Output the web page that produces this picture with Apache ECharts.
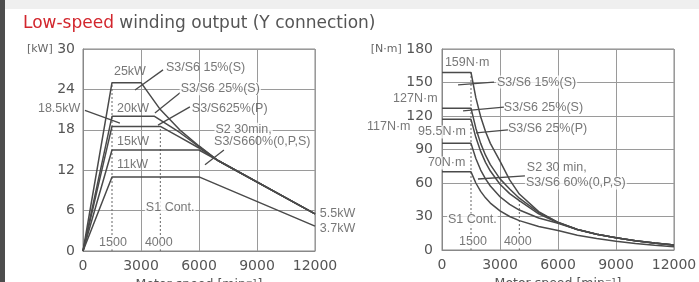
<!DOCTYPE html>
<html>
<head>
<meta charset="utf-8">
<script src="https://cdn.jsdelivr.net/npm/echarts@6/dist/echarts.min.js"></script>
<style>
  html, body { margin: 0; padding: 0; background: #fff; }
  #chart { width: 699px; height: 282px; }
</style>
</head>
<body>
<div id="chart"></div>
<script>
// --- data ---
// output [kW] against motor speed (points along each rated line)
const powS15Speed = [0, 1500, 3000, 4000, 5000, 6000, 7000, 12000];
const powS15 = [0, 25, 25, 21, 18, 15.6, 13.4, 5.5];
const powS25SSpeed = [0, 1500, 3700, 5000, 6000, 7000, 12000];
const powS25S = [0, 20, 20, 17.6, 15.5, 13.4, 5.5];
const powS25PSpeed = [0, 1500, 4000, 5000, 6000, 7000, 12000];
const powS25P = [0, 18.5, 18.5, 16.9, 15.3, 13.4, 5.5];
const powS2Speed = [0, 1500, 6000, 12000];
const powS2 = [0, 15, 15, 5.5];
const powS1Speed = [0, 1500, 6000, 12000];
const powS1 = [0, 11, 11, 3.7];

// torque [N·m] against motor speed
const torqueSpeed = [0, 1500, 1750, 2000, 2250, 2500, 3000, 3500, 4000, 5000, 6000, 7000, 8000, 9000, 10000, 11000, 12000];
const torS15 = [159, 159, 136.4, 119.4, 106.1, 95.5, 79.6, 62.8, 50.1, 34.4, 24.8, 18.3, 14.1, 10.9, 8.3, 6.2, 4.4];
const torS25S = [127, 127, 109.1, 95.5, 84.9, 76.4, 63.7, 54.6, 46.4, 33.6, 24.7, 18.3, 14.1, 10.9, 8.3, 6.2, 4.4];
const torS25P = [117, 117, 100.9, 88.3, 78.5, 70.7, 58.9, 50.5, 44.2, 32.3, 24.4, 18.3, 14.1, 10.9, 8.3, 6.2, 4.4];
const torS2 = [95.5, 95.5, 81.9, 71.6, 63.7, 57.3, 47.7, 40.9, 35.8, 28.6, 23.9, 18.3, 14.1, 10.9, 8.3, 6.1, 4.4];
const torS1 = [70, 70, 60.0, 52.5, 46.7, 42.0, 35.0, 30.0, 26.3, 21.0, 17.5, 13.3, 10.2, 7.8, 5.9, 4.3, 2.9];

// dotted speed markers: [speed, top value]
const powMarkers = [[1500, 25], [4000, 18.5]];
const torMarkers = [[1500, 159], [4000, 46.4]];

// axis ticks
const speedTicks = [0, 3000, 6000, 9000, 12000];
const powTicks = [0, 6, 12, 18, 24, 30];
const torTicks = [0, 30, 60, 90, 120, 150, 180];

// annotation texts, anchored (left edge, middle) at [speed, value]
const powNotes = [
  ['25kW', 1600, 26.6, false],
  ['S3/S6 15%(S)', 4290, 27.3, false],
  ['S3/S6 25%(S)', 5000, 24.1, true],
  ['18.5kW', -2330, 21.2, false],
  ['20kW', 1760, 21.2, false],
  ['S3/S625%(P)', 5630, 21.2, false],
  ['S2 30min,', 6800, 18.1, true],
  ['S3/S660%(0,P,S)', 6780, 16.3, false],
  ['15kW', 1760, 16.3, false],
  ['11kW', 1760, 12.9, false],
  ['S1 Cont.', 3200, 6.5, true],
  ['1500', 780, 1.2, true],
  ['4000', 3150, 1.2, true],
  ['5.5kW', 12250, 5.6, false],
  ['3.7kW', 12250, 3.4, false]
];
const torNotes = [
  ['159N·m', 150, 167.5, false],
  ['S3/S6 15%(S)', 2790, 150.4, true],
  ['127N·m', -2530, 136, false],
  ['S3/S6 25%(S)', 3200, 128, false],
  ['117N·m', -3880, 111, false],
  ['95.5N·m', -1290, 105.7, true],
  ['S3/S6 25%(P)', 3410, 108.4, false],
  ['70N·m', -780, 77.9, true],
  ['S2 30 min,', 4390, 73.4, false],
  ['S3/S6 60%(0,P,S)', 4290, 60, true],
  ['S1 Cont.', 260, 26.9, true],
  ['1500', 830, 7.2, true],
  ['4000', 3150, 7.2, true]
];

// arrows: [from speed, from value, to speed, to value]
const powArrows = [
  [4140, 26.9, 2690, 23.9],
  [5020, 23.5, 3720, 20.5],
  [5530, 21.4, 3880, 18.7],
  [100, 20.9, 1910, 19.0],
  [7290, 15.0, 6310, 12.8]
];
const torArrows = [
  [2690, 150.4, 830, 147.8],
  [3200, 128, 1090, 124.5],
  [-1500, 111, -100, 116.9],
  [3410, 107.5, 1760, 104.8],
  [4290, 66.3, 1860, 63.6]
];

// --- chart ---
const chart = echarts.init(document.getElementById('chart'), null, { renderer: 'canvas' });

const FONT = 'DejaVu Sans';
const NOTE_FONT = 'Liberation Sans';
const INK = '#4a4a4a';
const GRID = '#9a9a9a';

function zip(xs, ys) {
  return xs.map((x, i) => [x, ys[i]]);
}

function curve(name, idx, xs, ys) {
  return {
    name: name,
    type: 'line',
    xAxisIndex: idx,
    yAxisIndex: idx,
    data: zip(xs, ys),
    showSymbol: false,
    symbol: 'none',
    silent: true,
    lineStyle: { color: INK, width: 1.5 },
    z: 3
  };
}

function markerLines(idx, marks) {
  return marks.map(m => ({
    type: 'line',
    xAxisIndex: idx,
    yAxisIndex: idx,
    data: [[m[0], 0], [m[0], m[1]]],
    symbol: 'none',
    silent: true,
    lineStyle: { color: '#666', width: 1, type: [2, 2] },
    z: 2
  }));
}

function notes(idx, list, arrows) {
  return {
    type: 'scatter',
    xAxisIndex: idx,
    yAxisIndex: idx,
    symbolSize: 0,
    silent: true,
    clip: false,
    z: 5,
    data: list.map(n => ({
      value: [n[1], n[2]],
      label: {
        show: true,
        formatter: n[0],
        position: 'right',
        distance: 0,
        color: '#555',
        fontFamily: NOTE_FONT,
        fontSize: 12.5,
        backgroundColor: n[3] ? '#fff' : 'transparent',
        padding: n[3] ? [0, 1] : 0
      }
    })),
    markLine: {
      silent: true,
      symbol: ['none', 'arrow'],
      symbolSize: [0, 7],
      animation: false,
      label: { show: false },
      lineStyle: { color: INK, width: 1.3, type: 'solid' },
      data: arrows.map(a => [{ coord: [a[0], a[1]] }, { coord: [a[2], a[3]] }])
    }
  };
}

const xAxisBase = {
  type: 'value',
  min: speedTicks[0],
  max: speedTicks[speedTicks.length - 1],
  interval: 3000,
  name: 'Motor speed [min⁻¹]',
  nameLocation: 'middle',
  nameGap: 26,
  nameTextStyle: { color: '#555', fontFamily: FONT, fontSize: 12.5, verticalAlign: 'top' },
  axisLine: { show: true, lineStyle: { color: '#888' } },
  axisTick: { show: false },
  axisLabel: { color: '#555', fontFamily: FONT, fontSize: 14, margin: 8, formatter: v => String(v) },
  splitLine: { show: true, lineStyle: { color: GRID, width: 1 } }
};

const gridBase = {
  show: true,
  borderColor: '#888',
  borderWidth: 1,
  backgroundColor: 'transparent',
  containLabel: false,
  outerBoundsMode: 'none'
};

const option = {
  animation: false,
  backgroundColor: '#fff',
  graphic: [
    { type: 'rect', shape: { x: 0, y: 0, width: 699, height: 9 }, style: { fill: '#efefef' }, silent: true },
    { type: 'rect', shape: { x: 0, y: 0, width: 5, height: 282 }, style: { fill: '#4d4d4d' }, silent: true },
    {
      type: 'text', left: 23, top: 15, silent: true,
      style: {
        text: '{r|Low-speed} winding output (Y connection)',
        fill: '#555', font: '17px "DejaVu Sans"',
        rich: { r: { fill: '#d2262d', fontFamily: FONT, fontSize: 17 } }
      }
    }
  ],
  grid: [
    Object.assign({ left: 83, top: 49, width: 232, height: 202 }, gridBase),
    Object.assign({ left: 442, top: 49, width: 232, height: 201 }, gridBase)
  ],
  xAxis: [
    Object.assign({}, xAxisBase, { gridIndex: 0 }),
    Object.assign({}, xAxisBase, { gridIndex: 1 })
  ],
  yAxis: [
    {
      type: 'value', gridIndex: 0,
      min: powTicks[0], max: powTicks[powTicks.length - 1], interval: 6,
      axisLine: { show: true, lineStyle: { color: '#888' } },
      axisTick: { show: false },
      axisLabel: {
        color: '#555', fontFamily: FONT, fontSize: 14, margin: 8,
        formatter: v => v === 30 ? '{u|[kW]} 30' : String(v),
        rich: { u: { fontSize: 11, color: '#666', fontFamily: FONT } }
      },
      splitLine: { show: true, lineStyle: { color: GRID, width: 1 } }
    },
    {
      type: 'value', gridIndex: 1,
      min: torTicks[0], max: torTicks[torTicks.length - 1], interval: 30,
      axisLine: { show: true, lineStyle: { color: '#888' } },
      axisTick: { show: false },
      axisLabel: {
        color: '#555', fontFamily: FONT, fontSize: 14, margin: 9,
        formatter: v => v === 180 ? '{u|[N·m]} 180' : String(v),
        rich: { u: { fontSize: 11, color: '#666', fontFamily: FONT } }
      },
      splitLine: { show: true, lineStyle: { color: GRID, width: 1 } }
    }
  ],
  series: [
    curve('S3/S6 15%(S)', 0, powS15Speed, powS15),
    curve('S3/S6 25%(S)', 0, powS25SSpeed, powS25S),
    curve('S3/S6 25%(P)', 0, powS25PSpeed, powS25P),
    curve('S2 30min, S3/S6 60%', 0, powS2Speed, powS2),
    curve('S1 Cont.', 0, powS1Speed, powS1),
    ...markerLines(0, powMarkers),
    notes(0, powNotes, powArrows),

    curve('S3/S6 15%(S)', 1, torqueSpeed, torS15),
    curve('S3/S6 25%(S)', 1, torqueSpeed, torS25S),
    curve('S3/S6 25%(P)', 1, torqueSpeed, torS25P),
    curve('S2 30 min, S3/S6 60%', 1, torqueSpeed, torS2),
    curve('S1 Cont.', 1, torqueSpeed, torS1),
    ...markerLines(1, torMarkers),
    notes(1, torNotes, torArrows)
  ]
};

chart.setOption(option);
</script>
</body>
</html>
